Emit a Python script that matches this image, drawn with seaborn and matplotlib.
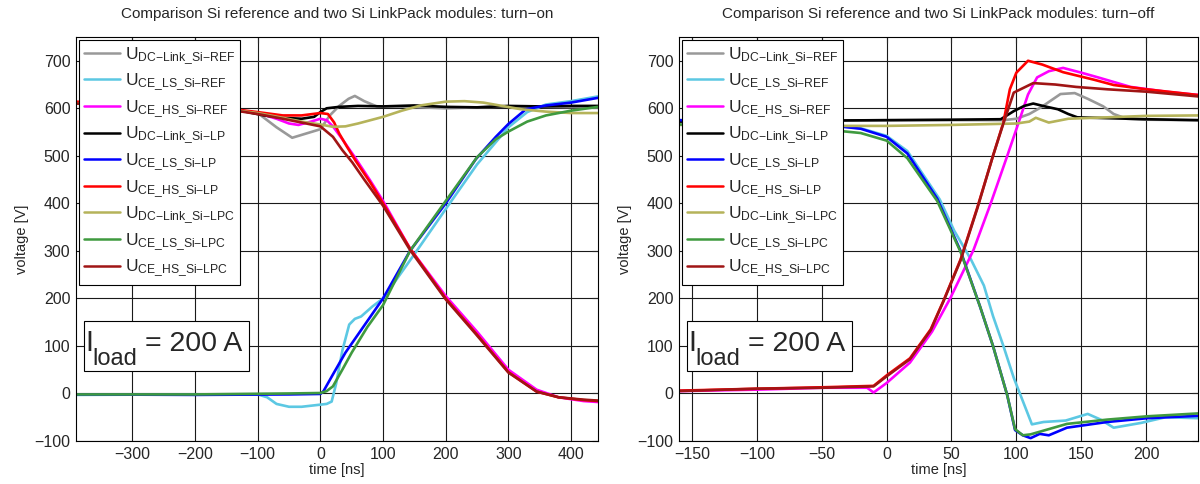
import matplotlib
matplotlib.use("Agg")
from matplotlib import pyplot as plt
from matplotlib.patches import Rectangle
import seaborn as sns
import pandas as pd

# ---- turn-on (time in ns, voltage in V) ----
dc_ref_on_t = [-390, -300, -200, -150, -100, -70, -45, -20, 0, 15, 30, 45, 55, 70, 90, 120, 200, 300, 443]
dc_ref_on_v = [612, 608, 604, 600, 590, 560, 538, 548, 556, 585, 605, 620, 626, 615, 604, 604, 600, 604, 602]
ls_ref_on_t = [-390, -200, -100, -85, -70, -50, -30, -10, 10, 18, 25, 35, 46, 55, 65, 83, 100, 150, 200, 250, 300, 330, 360, 400, 443]
ls_ref_on_v = [-3, -2, -2, -8, -22, -28, -28, -25, -22, -17, 20, 90, 145, 157, 162, 183, 200, 293, 388, 482, 560, 592, 608, 615, 625]
hs_ref_on_t = [-390, -300, -200, -150, -100, -70, -50, -35, -15, 0, 10, 20, 35, 55, 80, 100, 143, 200, 250, 300, 345, 380, 420, 443]
hs_ref_on_v = [612, 608, 604, 600, 590, 578, 568, 565, 572, 578, 575, 562, 535, 497, 447, 405, 305, 205, 130, 50, 8, -8, -16, -18]
dc_lp_on_t = [-390, -300, -200, -150, -120, -90, -60, -30, -10, 0, 10, 30, 60, 100, 150, 200, 250, 300, 350, 400, 443]
dc_lp_on_v = [612, 608, 603, 598, 593, 585, 580, 578, 582, 592, 600, 603, 605, 604, 606, 603, 602, 605, 604, 605, 605]
ls_lp_on_t = [-390, -200, -50, 0, 5, 20, 40, 70, 100, 143, 200, 248, 280, 300, 328, 360, 400, 443]
ls_lp_on_v = [-2, -3, -2, -1, 5, 40, 86, 143, 200, 300, 400, 493, 540, 567, 598, 606, 612, 622]
hs_lp_on_t = [-390, -300, -200, -150, -100, -60, -30, 0, 12, 22, 30, 42, 56, 80, 100, 143, 200, 248, 300, 345, 380, 420, 443]
hs_lp_on_v = [614, 608, 603, 600, 592, 585, 585, 590, 588, 570, 547, 520, 490, 443, 400, 305, 200, 127, 45, 4, -8, -14, -16]
dc_lpc_on_t = [-390, -300, -200, -150, -100, -60, -30, 0, 20, 40, 60, 80, 100, 130, 160, 200, 230, 260, 290, 320, 360, 400, 443]
dc_lpc_on_v = [610, 606, 602, 598, 590, 580, 572, 566, 561, 562, 568, 575, 582, 595, 606, 614, 615, 612, 605, 598, 593, 590, 590]
ls_lpc_on_t = [-390, -200, -50, 0, 10, 20, 35, 50, 75, 100, 143, 200, 250, 280, 300, 330, 360, 400, 443]
ls_lpc_on_v = [-2, -2, 0, 1, 5, 15, 50, 86, 140, 186, 300, 405, 497, 535, 551, 572, 585, 595, 603]
hs_lpc_on_t = [-390, -300, -200, -150, -100, -60, -30, 0, 20, 35, 51, 70, 100, 143, 200, 248, 300, 345, 380, 420, 443]
hs_lpc_on_v = [610, 606, 602, 598, 588, 578, 570, 562, 540, 512, 486, 450, 395, 302, 198, 125, 44, 4, -8, -13, -15]

# ---- turn-off ----
dc_ref_off_t = [-160, -100, -50, 0, 50, 90, 100, 110, 119, 134, 145, 155, 167, 175, 185, 200, 240]
dc_ref_off_v = [574, 574, 574, 575, 575, 575, 578, 588, 602, 630, 632, 620, 604, 588, 578, 576, 575]
ls_ref_off_t = [-160, -100, -50, -20, 0, 16, 41, 52, 65, 75, 82, 90, 98, 112, 121, 138, 155, 165, 175, 196, 215, 240]
ls_ref_off_v = [575, 572, 566, 558, 542, 510, 408, 343, 282, 227, 163, 100, 33, -65, -60, -57, -43, -55, -72, -62, -50, -52]
hs_ref_off_t = [-160, -100, -50, -15, -10, 0, 18, 35, 49, 67, 80, 93, 100, 109, 116, 125, 136, 150, 163, 188, 215, 240]
hs_ref_off_v = [5, 8, 12, 12, 2, 22, 65, 130, 200, 302, 398, 500, 556, 629, 665, 678, 685, 675, 665, 645, 635, 628]
dc_lp_off_t = [-160, -100, -60, 0, 50, 88, 98, 106, 113, 122, 132, 140, 147, 160, 200, 240]
dc_lp_off_v = [572, 574, 574, 575, 576, 577, 594, 605, 610, 604, 598, 588, 581, 580, 577, 575]
ls_lp_off_t = [-160, -100, -50, -20, 0, 16, 39, 57, 72, 82, 93, 99, 105, 111, 118, 125, 139, 170, 201, 240]
ls_lp_off_v = [575, 572, 566, 557, 540, 505, 410, 300, 183, 100, -4, -77, -88, -94, -85, -88, -72, -60, -52, -47]
hs_lp_off_t = [-160, -100, -50, -10, 0, 18, 34, 44, 57, 70, 82, 90, 95, 100, 109, 120, 136, 160, 175, 200, 240]
hs_lp_off_v = [6, 10, 13, 16, 38, 74, 135, 196, 282, 392, 500, 570, 640, 675, 700, 692, 676, 660, 649, 640, 628]
dc_lpc_off_t = [-160, -100, -50, 0, 50, 100, 110, 115, 125, 140, 160, 200, 240]
dc_lpc_off_v = [565, 565, 563, 563, 565, 568, 572, 580, 570, 578, 580, 584, 585]
ls_lpc_off_t = [-160, -100, -50, -20, 0, 16, 39, 57, 72, 82, 93, 99, 105, 111, 125, 139, 170, 201, 240]
ls_lpc_off_v = [566, 562, 556, 548, 532, 495, 405, 298, 183, 100, -4, -75, -88, -86, -75, -64, -55, -48, -42]
hs_lpc_off_t = [-160, -100, -50, -10, 0, 18, 34, 44, 57, 70, 82, 90, 98, 113, 130, 146, 170, 200, 240]
hs_lpc_off_v = [5, 10, 12, 15, 36, 72, 133, 195, 280, 390, 500, 568, 633, 653, 650, 645, 640, 635, 625]

# subscripts of the legend entries ({-} keeps mathtext from spacing the dash)
names = ["DC{-}Link\\_Si{-}REF", "CE\\_LS\\_Si{-}REF", "CE\\_HS\\_Si{-}REF",
         "DC{-}Link\\_Si{-}LP", "CE\\_LS\\_Si{-}LP", "CE\\_HS\\_Si{-}LP",
         "DC{-}Link\\_Si{-}LPC", "CE\\_LS\\_Si{-}LPC", "CE\\_HS\\_Si{-}LPC"]
labels = [r"$\mathrm{U}_{\mathrm{%s}}$" % n for n in names]
colors = ["#999999", "#5cc8e3", "#ff00ff", "#000000", "#0000ff", "#ff0000",
          "#b5b35a", "#3f9a3f", "#a01515"]

on_series = [(dc_ref_on_t, dc_ref_on_v), (ls_ref_on_t, ls_ref_on_v), (hs_ref_on_t, hs_ref_on_v),
             (dc_lp_on_t, dc_lp_on_v), (ls_lp_on_t, ls_lp_on_v), (hs_lp_on_t, hs_lp_on_v),
             (dc_lpc_on_t, dc_lpc_on_v), (ls_lpc_on_t, ls_lpc_on_v), (hs_lpc_on_t, hs_lpc_on_v)]
off_series = [(dc_ref_off_t, dc_ref_off_v), (ls_ref_off_t, ls_ref_off_v), (hs_ref_off_t, hs_ref_off_v),
              (dc_lp_off_t, dc_lp_off_v), (ls_lp_off_t, ls_lp_off_v), (hs_lp_off_t, hs_lp_off_v),
              (dc_lpc_off_t, dc_lpc_off_v), (ls_lpc_off_t, ls_lpc_off_v), (hs_lpc_off_t, hs_lpc_off_v)]


def to_frame(series):
    rows = []
    for lab, (t, v) in zip(labels, series):
        rows.append(pd.DataFrame({"t": t, "v": v, "signal": lab}))
    return pd.concat(rows, ignore_index=True)


sns.set_style("white")
plt.rcParams['font.family'] = ['Liberation Sans', 'DejaVu Sans']
plt.rcParams['mathtext.fontset'] = 'custom'
plt.rcParams['mathtext.rm'] = 'Liberation Sans'
plt.rcParams['mathtext.it'] = 'Liberation Sans:italic'
plt.rcParams['axes.unicode_minus'] = True

fig = plt.figure(figsize=(12, 4.84), dpi=100)
ax1 = fig.add_axes([76 / 1200, 43 / 484, 522 / 1200, 404 / 484])
ax2 = fig.add_axes([679 / 1200, 43 / 484, 519 / 1200, 404 / 484])

panels = [
    (ax1, on_series, (-390, 443), [-300, -200, -100, 0, 100, 200, 300, 400],
     "Comparison Si reference and two Si LinkPack modules: turn\u2212on"),
    (ax2, off_series, (-160, 240), [-150, -100, -50, 0, 50, 100, 150, 200],
     "Comparison Si reference and two Si LinkPack modules: turn\u2212off"),
]

for ax, series, xlim, xt, title in panels:
    df = to_frame(series)
    sns.lineplot(ax=ax, data=df, x="t", y="v", hue="signal", hue_order=labels,
                 palette=colors, sort=False, estimator=None, linewidth=1.9)
    ax.set_xlim(*xlim)
    ax.set_ylim(-100, 750)
    ax.set_xticks(xt)
    ax.set_yticks([-100, 0, 100, 200, 300, 400, 500, 600, 700])
    ax.grid(True, color="#1a1a1a", linewidth=0.8)
    ax.set_axisbelow(True)
    ax.tick_params(direction="in", length=4, top=True, right=True, labelsize=11.5, pad=4)
    for s in ax.spines.values():
        s.set_color("black")
        s.set_linewidth(0.8)
    ax.set_xlabel("time [ns]", fontsize=10.5, labelpad=1)
    ax.set_ylabel("voltage [V]", fontsize=10.5)
    ax.set_title(title, fontsize=11, pad=14)
    leg = ax.legend(loc="upper left", fontsize=12.5, frameon=True, fancybox=False,
                    borderaxespad=0.15, handlelength=2.1, handletextpad=0.25,
                    labelspacing=0.28, borderpad=0.3)
    leg.get_frame().set_edgecolor("black")
    leg.get_frame().set_linewidth(0.8)
    leg.get_frame().set_alpha(1)
    for line in leg.get_lines():
        line.set_linewidth(1.8)

    # I_load box, placed in pixels from the lower-left axes corner
    w, h = ax.bbox.width, ax.bbox.height
    ax.add_patch(Rectangle((8 / w, 70 / h), 165 / w, 50 / h, transform=ax.transAxes,
                           facecolor="white", edgecolor="black", linewidth=0.8, zorder=5))
    ax.text(9 / w, 90 / h, "I", transform=ax.transAxes, fontsize=21, va="baseline", ha="left", zorder=6)
    ax.text(16 / w, 76 / h, "load", transform=ax.transAxes, fontsize=17, va="baseline", ha="left", zorder=6)
    ax.text(69 / w, 90 / h, "= 200 A", transform=ax.transAxes, fontsize=20.5, va="baseline", ha="left", zorder=6)

fig.savefig("out.png", dpi=100)
